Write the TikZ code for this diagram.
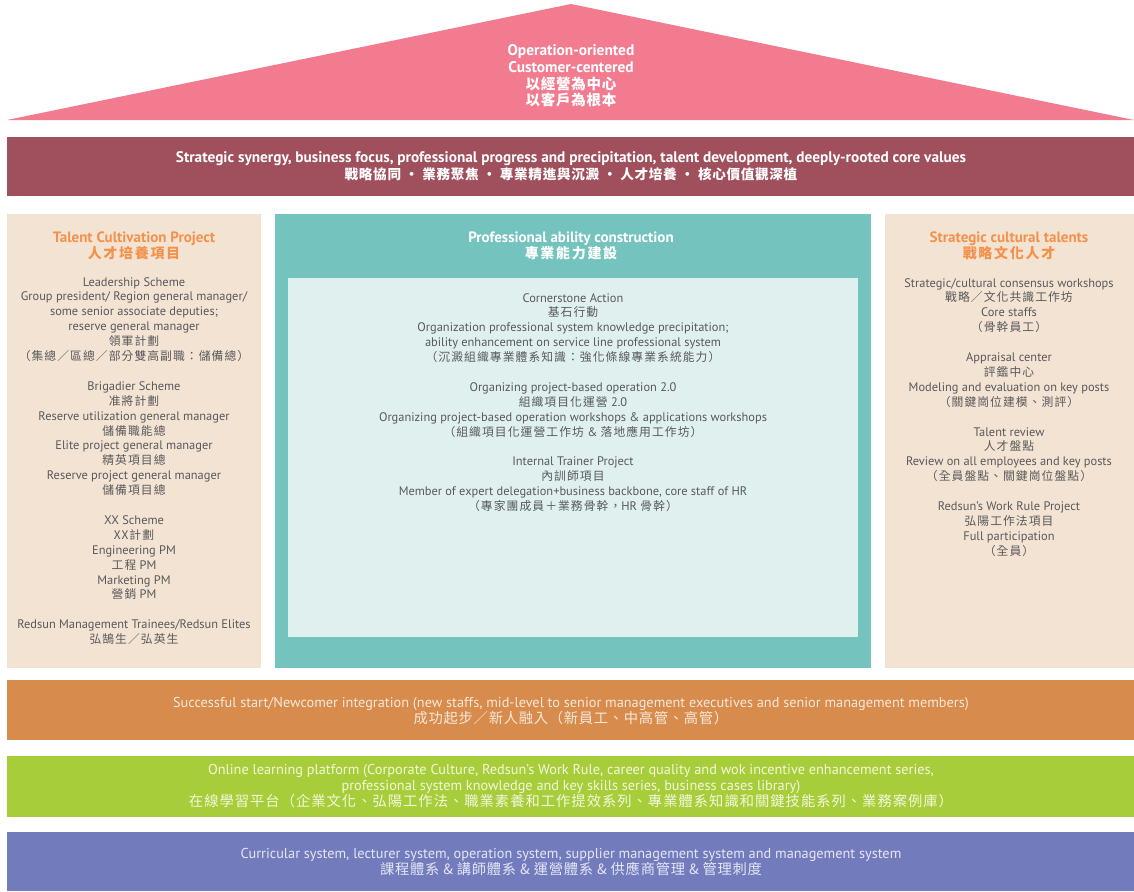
\documentclass[tikz,border=0pt]{standalone}
\usepackage{fontspec}
\setmainfont{PT Sans}
\newfontfamily\cjk[LetterSpace=9]{Noto Sans CJK TC}
\newfontfamily\cjkh[LetterSpace=12]{Noto Sans CJK TC Medium}
\newfontfamily\cjkb[LetterSpace=5]{Noto Sans CJK TC}
\newfontfamily\cjkg[LetterSpace=7]{Noto Sans CJK TC}
\newcommand\zh[1]{{\cjk\fontsize{11.8}{14.9}\selectfont #1}}
\newcommand\zhb[1]{{\cjkb #1}}
\definecolor{roofc}{HTML}{F27B90}
\definecolor{beamc}{HTML}{A04F5C}
\definecolor{colc}{HTML}{F3E3D3}
\definecolor{tealc}{HTML}{74C3BE}
\definecolor{innerc}{HTML}{E0F0EF}
\definecolor{orangec}{HTML}{D78B4C}
\definecolor{greenc}{HTML}{A8CD3A}
\definecolor{bluec}{HTML}{727CBD}
\definecolor{headc}{HTML}{F4914B}
\definecolor{bodyc}{HTML}{58595B}
\definecolor{otext}{HTML}{F8E8DA}
\definecolor{gtext}{HTML}{F2F8DC}
\definecolor{btext}{HTML}{E4E6F4}
\tikzset{
  block/.style={rectangle, inner sep=0pt, draw=none},
  bodytext/.style={align=center, inner sep=0pt, anchor=north, text=bodyc,
    font=\fontsize{12.4}{14.9}\selectfont},
  headtext/.style={align=center, inner sep=0pt, font=\fontsize{15}{16}\selectfont\bfseries},
  bandtext/.style={align=center, inner sep=0pt, font=\fontsize{14.3}{16}\selectfont}
}
\begin{document}
\begin{tikzpicture}[x=1pt,y=-1pt]
\useasboundingbox (0,0) rectangle (1134,891);
% roof
\fill[roofc] (7,120) -- (571,4) -- (1134,120) -- cycle;
\node[headtext, text=white, font=\fontsize{15.4}{16.7}\selectfont\bfseries] (roof) at (571,76)
  {Operation-oriented\\Customer-centered\\{\cjkb\fontsize{14.5}{16.7}\selectfont 以經營為中心}\\{\cjkb\fontsize{14.5}{16.7}\selectfont 以客戶為根本}};
% beam
\node[block, fill=beamc, minimum width=1127pt, minimum height=59pt] (beam) at (570.5,166.5) {};
\node[headtext, text=white, font=\fontsize{15.3}{16.5}\selectfont\bfseries] (beamtext) at (571,166)
  {Strategic synergy, business focus, professional progress and precipitation, talent development, deeply-rooted core values\\
   {\cjkb\fontsize{13.6}{16.5}\selectfont 戰略協同 • 業務聚焦 • 專業精進與沉澱 • 人才培養 • 核心價值觀深植}};
% columns
\node[block, fill=colc, minimum width=254pt, minimum height=454pt] (left) at (134,441) {};
\node[block, fill=tealc, minimum width=596pt, minimum height=454pt] (mid) at (573,441) {};
\node[block, fill=innerc, minimum width=570pt, minimum height=359pt] (inner) at (573,457.5) {};
\node[block, fill=colc, minimum width=249pt, minimum height=454pt] (right) at (1009.5,441) {};
% headers
\node[headtext, text=headc] (lefthead) at (134,246) {Talent Cultivation Project\\{\cjkh\fontsize{14}{16}\selectfont 人才培養項目}};
\node[headtext, text=white] (midhead) at (571,246) {Professional ability construction\\{\cjkh\fontsize{14}{16}\selectfont 專業能力建設}};
\node[headtext, text=headc] (righthead) at (1009,246) {Strategic cultural talents\\{\cjkh\fontsize{14}{16}\selectfont 戰略文化人才}};
% left body
\node[bodytext] (leftbody) at (134,277) {
Leadership Scheme\\
Group president/ Region general manager/\\
some senior associate deputies;\\
reserve general manager\\
\zh{領軍計劃}\\
\zh{（集總／區總／部分雙高副職：儲備總）}\\[14.9pt]
Brigadier Scheme\\
\zh{准將計劃}\\
Reserve utilization general manager\\
\zh{儲備職能總}\\
Elite project general manager\\
\zh{精英項目總}\\
Reserve project general manager\\
\zh{儲備項目總}\\[14.9pt]
XX Scheme\\
\zh{XX計劃}\\
Engineering PM\\
\zh{工程} PM\\
Marketing PM\\
\zh{營銷} PM\\[14.9pt]
Redsun Management Trainees/Redsun Elites\\
\zh{弘鵠生／弘英生}};
% middle body
\node[bodytext] (midbody) at (573,293) {
Cornerstone Action\\
\zh{基石行動}\\
Organization professional system knowledge precipitation;\\
ability enhancement on service line professional system\\
\zh{（沉澱組織專業體系知識：強化條線專業系統能力）}\\[14.9pt]
Organizing project-based operation 2.0\\
\zh{組織項目化運營} 2.0\\
Organizing project-based operation workshops \& applications workshops\\
\zh{（組織項目化運營工作坊} \& \zh{落地應用工作坊）}\\[14.9pt]
Internal Trainer Project\\
\zh{內訓師項目}\\
Member of expert delegation+business backbone, core staff of HR\\
\zh{（專家團成員＋業務骨幹，}HR \zh{骨幹）}};
% right body
\node[bodytext] (rightbody) at (1009,278) {
Strategic/cultural consensus workshops\\
\zh{戰略／文化共識工作坊}\\
Core staffs\\
\zh{（骨幹員工）}\\[14.9pt]
Appraisal center\\
\zh{評鑑中心}\\
Modeling and evaluation on key posts\\
\zh{（關鍵崗位建模、測評）}\\[14.9pt]
Talent review\\
\zh{人才盤點}\\
Review on all employees and key posts\\
\zh{（全員盤點、關鍵崗位盤點）}\\[14.9pt]
Redsun’s Work Rule Project\\
\zh{弘陽工作法項目}\\
Full participation\\
\zh{（全員）}};
% foundation bands
\node[block, fill=orangec, minimum width=1127pt, minimum height=60pt] (orange) at (570.5,710) {};
\node[bandtext, text=otext] (orangetext) at (571,711)
  {Successful start/Newcomer integration (new staffs, mid-level to senior management executives and senior management members)\\
   \zhb{成功起步／新人融入（新員工、中高管、高管）}};
\node[block, fill=greenc, minimum width=1127pt, minimum height=61pt] (green) at (570.5,786.5) {};
\node[bandtext, text=gtext] (greentext) at (571,786)
  {Online learning platform (Corporate Culture, Redsun’s Work Rule, career quality and wok incentive enhancement series,\\
   professional system knowledge and key skills series, business cases library)\\
   {\cjkg 在線學習平台（企業文化、弘陽工作法、職業素養和工作提效系列、專業體系知識和關鍵技能系列、業務案例庫）}};
\node[block, fill=bluec, minimum width=1127pt, minimum height=59pt] (blue) at (570.5,861.5) {};
\node[bandtext, text=btext] (bluetext) at (571,862)
  {Curricular system, lecturer system, operation system, supplier management system and management system\\
   \zhb{課程體系 \& 講師體系 \& 運營體系 \& 供應商管理 \& 管理刺度}};
\end{tikzpicture}
\end{document}
